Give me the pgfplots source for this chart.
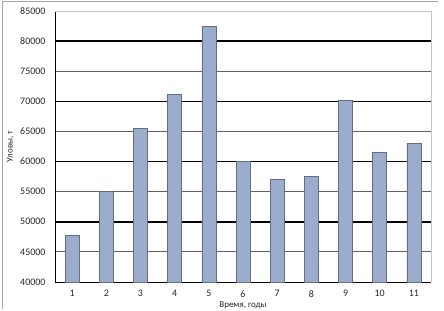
\documentclass[border=0pt]{standalone}
\usepackage{pgfplots}
\pgfplotsset{compat=1.18}
\usepackage{fontspec}
\setmainfont{Carlito}
\definecolor{barF}{RGB}{156,172,204}
\definecolor{barE}{RGB}{100,110,130}
\begin{document}
\begin{tikzpicture}[x=1bp,y=1bp]
\useasboundingbox (0,0) rectangle (444,310);
\draw[gray!70, line width=0.8bp] (2,1) -- (2,309) -- (438,309);
\begin{axis}[
  at={(55bp,28bp)}, anchor=south west,
  scale only axis, width=376bp, height=271bp,
  xmin=0.5, xmax=11.5, ymin=40000, ymax=85000,
  xtick={1,...,11},
  ytick={40000,45000,...,85000},
  scaled y ticks=false,
  /pgf/number format/fixed,
  /pgf/number format/1000 sep={},
  /pgf/number format/assume math mode=true,
  ticklabel style={font=\fontsize{10}{12}\selectfont, text=black!85},
  axis x line*=bottom, axis y line*=left,
  axis line style={-, black, line width=0.9bp},
  major tick length=0pt,
  yticklabel style={xshift=-6bp},
  xticklabel style={yshift=-5bp},
  ymajorgrids,
  grid style={gray!75!black, line width=0.9bp},
  extra y ticks={50000,60000,70000,80000},
  extra y tick labels={},
  extra y tick style={grid style={black, line width=1.6bp}},
  xlabel={Время, годы},
  ylabel={Уловы, т},
  label style={font=\fontsize{9}{10}\selectfont, text=black!85},
  xlabel style={at={(axis description cs:0.5,0)}, anchor=center, yshift=-23bp},
  ylabel style={at={(axis description cs:-0.119,0.5)}, anchor=center, rotate=0},
  clip=false,
]
\draw[gray!45, line width=0.8bp] (rel axis cs:0,1) -- (rel axis cs:1,1) -- (rel axis cs:1,0);
\addplot[ybar, bar width=14bp, fill=barF, draw=barE, line width=0.5bp]
 coordinates {(1,47800) (2,55000) (3,65500) (4,71200) (5,82500) (6,60000) (7,57100) (8,57600) (9,70100) (10,61500) (11,63000)};
\end{axis}
\end{tikzpicture}
\end{document}
